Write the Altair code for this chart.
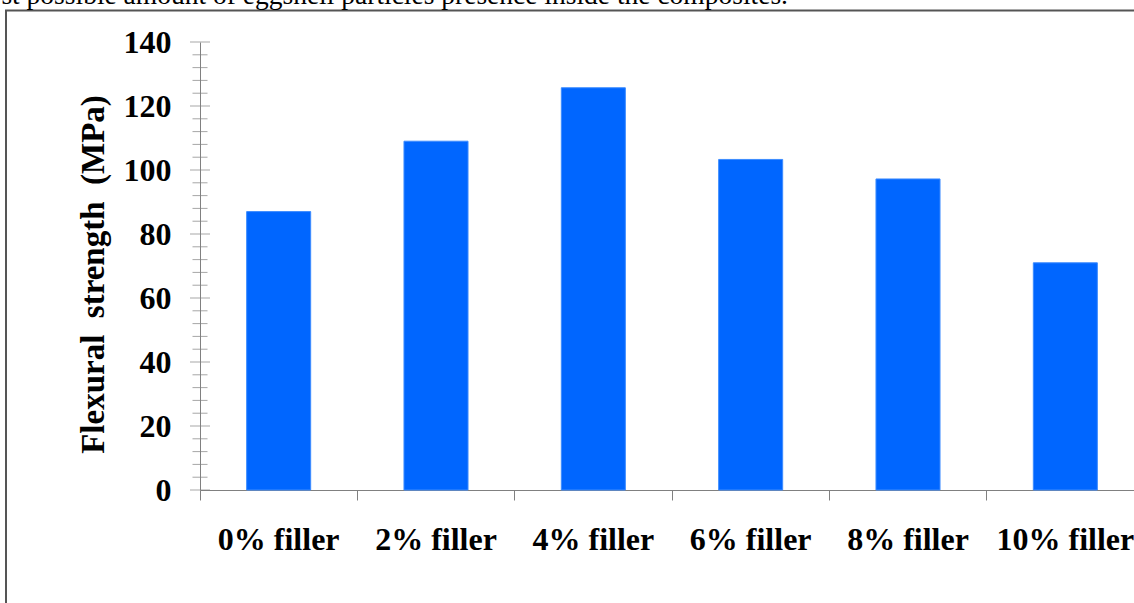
import altair as alt
import pandas as pd

# Flexural strength of the eggshell-filled composites
categories = ["0% filler", "2% filler", "4% filler", "6% filler", "8% filler", "10% filler"]
strengths = [87.0, 109.0, 125.7, 103.3, 97.2, 71.0]

# y-axis tick values (labelled majors and unlabelled minors)
major_ticks = [0, 20, 40, 60, 80, 100, 120, 140]
minor_ticks = [v for v in range(0, 141, 4) if v % 20 != 0]

caption = "st possible amount of eggshell particles presence inside the composites."
y_title = "Flexural\u00a0 strength\u00a0 (MPa)"

SERIF = "Liberation Serif"
AXIS_GREY = "#808080"

bars_df = pd.DataFrame({"filler": categories, "strength": strengths})
major_df = pd.DataFrame({"strength": major_ticks})
minor_df = pd.DataFrame({"strength": minor_ticks})

y_scale = alt.Scale(domain=[0, 140], nice=False, zero=True)

bars = alt.Chart(bars_df).mark_bar(
    color="#0066FF", stroke="#3d8cff", strokeWidth=1
).encode(
    x=alt.X(
        "filler:N",
        sort=categories,
        scale=alt.Scale(range=[0, 944], paddingInner=0.593, paddingOuter=0.2965),
        axis=alt.Axis(
            title=None,
            labelAngle=0,
            labelFont=SERIF,
            labelFontWeight="bold",
            labelFontSize=32,
            labelColor="black",
            labelPadding=24,
            bandPosition=-0.7285,
            tickSize=10,
            tickColor=AXIS_GREY,
            domainColor=AXIS_GREY,
            labelOverlap=False,
            labelBound=False,
        ),
    ),
    y=alt.Y(
        "strength:Q",
        scale=y_scale,
        axis=alt.Axis(
            values=major_ticks,
            ticks=False,
            tickSize=0,
            grid=False,
            labelFont=SERIF,
            labelFontWeight="bold",
            labelFontSize=32,
            labelColor="black",
            labelPadding=29,
            domainColor=AXIS_GREY,
            title=y_title,
            titleFont=SERIF,
            titleFontWeight="bold",
            titleFontSize=33,
            titleColor="black",
            titleAngle=270,
            titleAlign="center",
            titleBaseline="middle",
            titleX=-107,
            titleY=232,
        ),
    ),
)

# tick marks that cross the y-axis line
major = alt.Chart(major_df).mark_tick(
    orient="horizontal", size=20, thickness=1, color=AXIS_GREY
).encode(x=alt.value(0), y=alt.Y("strength:Q", scale=y_scale))

minor = alt.Chart(minor_df).mark_tick(
    orient="horizontal", size=15, thickness=1, color=AXIS_GREY
).encode(x=alt.value(0), y=alt.Y("strength:Q", scale=y_scale))

# outer chart-area frame
frame = alt.Chart(pd.DataFrame({"k": [0]})).mark_rect(
    fill="white", fillOpacity=0, stroke="#555555", strokeWidth=2
).encode(
    x=alt.value(-194), x2=alt.value(1100),
    y=alt.value(-31.5), y2=alt.value(700),
)

# running text line above the chart
text = alt.Chart(pd.DataFrame({"k": [0]})).mark_text(
    align="right", baseline="alphabetic", font=SERIF, fontSize=27.5, color="black"
).encode(x=alt.value(588), y=alt.value(-38), text=alt.value(caption))

chart = alt.layer(frame, bars, minor, major, text).properties(
    width=934,
    height=448,
    autosize=alt.AutoSizeParams(type="none"),
    padding={"left": 200, "top": 42, "right": 0, "bottom": 113},
    background="white",
).configure_view(stroke=None)

chart.save("out.html", embed_options={"renderer": "svg", "actions": False})
